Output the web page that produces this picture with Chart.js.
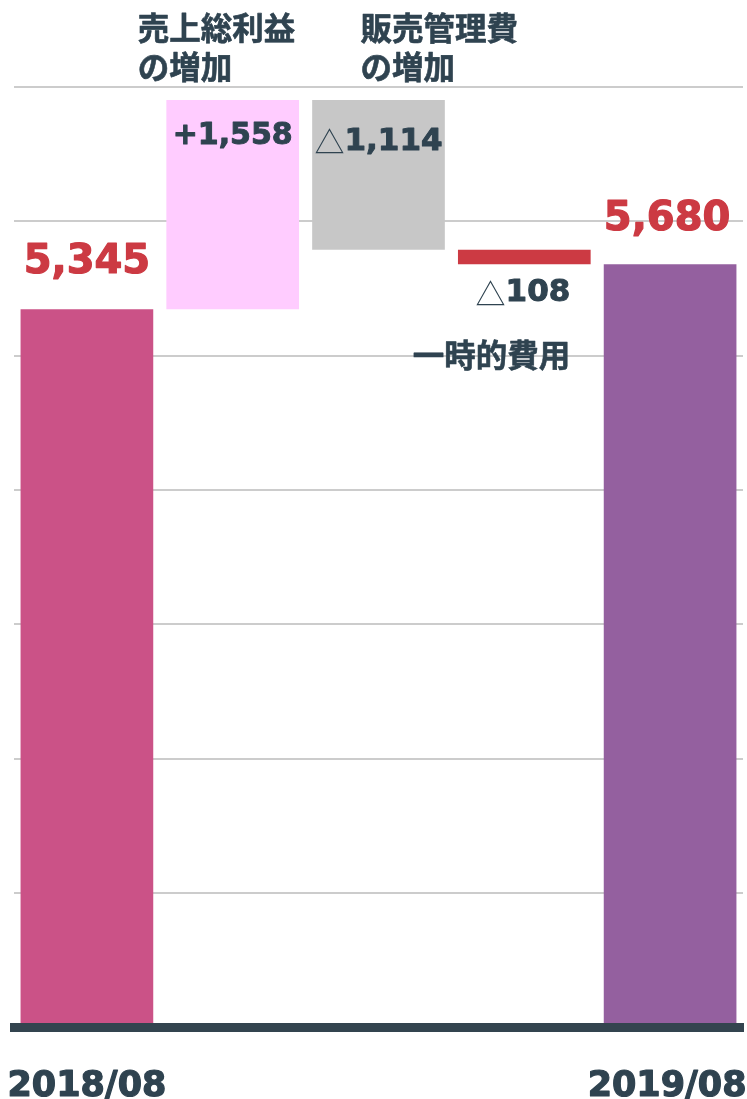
<!DOCTYPE html>
<html>
<head>
<meta charset="utf-8">
<script src="https://cdn.jsdelivr.net/npm/chart.js@4/dist/chart.umd.min.js"></script>
<style>
  html, body { margin: 0; padding: 0; background: #ffffff; }
  #wrap { width: 747px; height: 1099px; }
</style>
</head>
<body>
<div id="wrap"><canvas id="chart" width="747" height="1099"></canvas></div>
<script>
// ===== DATA =====
const categories = ['2018/08', '売上総利益の増加', '販売管理費の増加', '一時的費用', '2019/08'];
const axisLabels = ['2018/08', '', '', '', '2019/08'];
const startValue = 5345;
const changes = [1558, -1114, -108];
const endValue = 5680;
const valueLabels = ['5,345', '+1,558', '△1,114', '△108', '5,680'];
const yTicks = [0, 1000, 2000, 3000, 4000, 5000, 6000, 7000];

const barColors = ['#CB5287', '#FFCCFF', '#C7C7C7', '#CC3A43', '#94609F'];
const DARK = '#2F4350';
const RED = '#CC3A43';

// waterfall ranges: [low, high] for each bar
function buildRanges() {
    const ranges = [[0, startValue]];
    let running = startValue;
    changes.forEach(c => {
        const next = running + c;
        ranges.push([Math.min(running, next), Math.max(running, next)]);
        running = next;
    });
    ranges.push([0, endValue]);
    return ranges;
}
const ranges = buildRanges();

/** Draw text pieces with different weights/fonts in one line */
function drawPieces(ctx, pieces, x, y, align) {
    let total = 0;
    pieces.forEach(p => { ctx.font = p.font; p.w = ctx.measureText(p.text).width; total += p.w; });
    let cx = align === 'center' ? x - total / 2 : align === 'right' ? x - total : x;
    ctx.textAlign = 'left';
    ctx.textBaseline = 'middle';
    ctx.lineJoin = 'round';
    pieces.forEach(p => {
        ctx.font = p.font;
        ctx.fillStyle = p.color;
        ctx.fillText(p.text, cx, y);
        if (p.heavy) {
            // thicken the bold face a little, the original is heavier
            ctx.strokeStyle = p.color;
            ctx.lineWidth = p.heavy;
            ctx.strokeText(p.text, cx, y);
        }
        cx += p.w;
    });
}

const NUM = '"DejaVu Sans", sans-serif';
const JP = '"Noto Sans CJK JP", sans-serif';

const annotations = {
    id: 'annotations',
    afterDraw(chart) {
        const { ctx, scales: { x, y } } = chart;
        const cx = i => x.getPixelForValue(i);
        const top = y.getPixelForValue(yTicks[yTicks.length - 1]);
        ctx.save();

        // start / end totals in red
        drawPieces(ctx, [{ text: valueLabels[0], font: `bold 40px ${NUM}`, color: RED, heavy: 1.2 }],
            cx(0), y.getPixelForValue(ranges[0][1]) - 47, 'center');
        drawPieces(ctx, [{ text: valueLabels[4], font: `bold 40px ${NUM}`, color: RED, heavy: 1.2 }],
            cx(4) - 3, y.getPixelForValue(ranges[4][1]) - 45, 'center');

        // change amounts
        drawPieces(ctx, [{ text: valueLabels[1], font: `bold 30px ${NUM}`, color: DARK, heavy: 1 }],
            cx(1), y.getPixelForValue(ranges[1][1]) + 36, 'center');
        drawPieces(ctx, [
            { text: '△', font: `30px ${JP}`, color: DARK },
            { text: valueLabels[2].slice(1), font: `bold 31px ${NUM}`, color: DARK, heavy: 1 }
        ], cx(2), y.getPixelForValue(ranges[2][1]) + 42, 'center');
        drawPieces(ctx, [
            { text: '△', font: `30px ${JP}`, color: DARK },
            { text: valueLabels[3].slice(1), font: `bold 31px ${NUM}`, color: DARK, heavy: 1 }
        ], cx(3) + 46, y.getPixelForValue(ranges[3][0]) + 29, 'right');

        // category captions
        const jp = `bold 31.5px ${JP}`;
        drawPieces(ctx, [{ text: '売上総利益', font: jp, color: DARK, heavy: 0.6 }], cx(1) - 95, top - 59, 'left');
        drawPieces(ctx, [{ text: 'の増加', font: jp, color: DARK, heavy: 0.6 }], cx(1) - 95, top - 20, 'left');
        drawPieces(ctx, [{ text: '販売管理費', font: jp, color: DARK, heavy: 0.6 }], cx(2) - 18, top - 59, 'left');
        drawPieces(ctx, [{ text: 'の増加', font: jp, color: DARK, heavy: 0.6 }], cx(2) - 18, top - 20, 'left');
        drawPieces(ctx, [{ text: categories[3], font: jp, color: DARK, heavy: 0.6 }],
            cx(3) + 46, y.getPixelForValue(ranges[3][0]) + 91, 'right');

        // x axis labels
        const bottom = y.getPixelForValue(0);
        axisLabels.forEach((lab, i) => {
            if (!lab) return;
            drawPieces(ctx, [{ text: lab, font: `bold 35px ${NUM}`, color: DARK, heavy: 1.2 }],
                cx(i) - (i === 0 ? 0 : 3), bottom + 59, 'center');
        });
        ctx.restore();
    }
};

new Chart(document.getElementById('chart'), {
    type: 'bar',
    data: {
        labels: categories,
        datasets: [{
            data: ranges,
            backgroundColor: barColors,
            borderWidth: 0,
            barPercentage: 0.91,
            categoryPercentage: 1.0
        }]
    },
    options: {
        responsive: false,
        animation: false,
        layout: { padding: { top: 87, left: 14, right: 4, bottom: 71.5 } },
        plugins: { legend: { display: false }, tooltip: { enabled: false } },
        scales: {
            x: {
                grid: { display: false },
                ticks: { display: false },
                border: { display: true, color: '#33444F', width: 9, z: 1 },
                afterFit: s => { s.height = 0; }
            },
            y: {
                min: 0, max: 7000,
                afterBuildTicks: s => { s.ticks = yTicks.map(v => ({ value: v })); },
                ticks: { display: false },
                grid: { color: '#CCCCCC', lineWidth: 2, drawTicks: false },
                border: { display: false },
                afterFit: s => { s.width = 0; }
            }
        }
    },
    plugins: [annotations]
});
</script>
</body>
</html>
